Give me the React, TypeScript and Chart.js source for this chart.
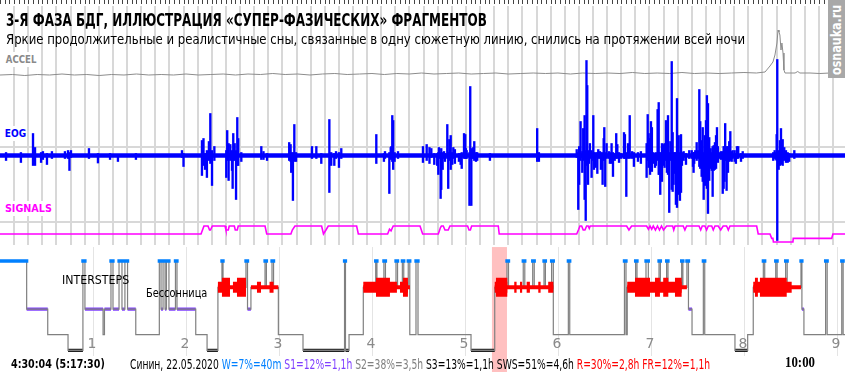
import React, { useEffect, useLayoutEffect, useRef } from 'react';
import { Chart, registerables } from 'chart.js';

Chart.register(...registerables);

// ---------------- data (time axis in minutes from 4:30:04) ----------------
const X_MAX = 545.2;
const HOURS = [1, 2, 3, 4, 5, 6, 7, 8, 9];
const GRID_STEP_MIN = 9.11;
const SELECTION: [number, number] = [317.4, 327.1];

type Stage = 'W' | 'R' | 'S1' | 'S2' | 'S3';

// ACCEL trace [minute, amplitude]
const ACCEL: [number, number][] = [
  [0, -1], [8, -0.5], [16, -1.5], [24, -0.5], [32, -1], [40, 0], [48, -1], [56, -0.5], [64, -1.5], [72, -0.5],
  [80, -1], [88, 0], [96, -1], [104, -0.5], [112, -1], [120, 0], [128, -1], [136, -0.5], [144, 0], [152, -1],
  [160, 0], [168, -0.5], [176, 0.5], [184, -0.5], [192, 0], [200, -1], [208, 0], [216, 0.5], [224, -0.5], [232, 0],
  [240, 0.5], [248, -0.5], [256, 0.5], [264, 0], [272, 1], [280, 0], [288, 0.5], [296, 1], [304, 0], [312, 0.5],
  [320, 1], [328, 0], [336, 0.5], [344, 1], [352, 0.5], [360, 1], [368, 0], [376, 1], [384, 0.5], [392, 1],
  [400, 0.5], [408, 1.5], [416, 0.5], [424, 1], [432, 0.5], [440, 1.5], [448, 0.5], [456, 1], [464, 0.5], [472, 1],
  [480, 1.5], [488, 1], [493.6, 2], [496.8, 8], [498.7, 12], [500.0, 19], [501.3, 31], [502.0, 44], [502.6, 42],
  [503.2, 39], [503.9, 24], [504.5, 31], [505.2, 21], [505.8, 4], [506.5, 1], [509.7, 1], [513, 1], [514.7, 2.5],
  [516.1, 1], [522.6, 1], [529.0, 0.5], [535.5, 1], [545.2, 1],
];

// EOG excursions [minute, low, high]
const EOG_SPIKES: [number, number, number][] = [
  [3.9, -5, 3], [13.5, -7, 3], [21.3, -10, 22], [22.6, -10, 8], [26.5, -7, 3], [27.7, -4, 4], [30.3, -9, 2], [33.5, -3, 4],
  [41.9, -3, 4], [43.9, -3, 5], [44.8, -15, 3], [45.8, -2, 5], [57.4, -3, 7], [63.2, -7.5, 2], [71.0, -4, 2], [76.1, -6, 1],
  [87.7, -4, 2], [117.4, -2, 5], [118.4, -11, 2], [130.3, -20, 15], [131.3, -10, 17], [132.3, -14, 2], [133.5, -22, 5],
  [134.8, -5, 14], [135.7, -8, 42], [136.8, -30, 5],
  [138.3, -5, 9], [146.0, -22, 5], [146.6, -5, 25], [147.5, -25, 12], [148.6, -5, 11], [149.7, -15, 5], [150.1, -33, 3],
  [150.5, -5, 22], [151.4, -5, 12], [152.3, -44, 5], [153.1, -10, 38], [153.7, -10, 17], [155.7, -6, 3], [168.6, -4, 9],
  [170.0, -4, 4], [172.3, -5, 2], [186.6, -5, 13], [187.5, -6, 11], [187.9, -17, 3], [189.0, -45, 3], [189.9, -6, 31],
  [191.0, -6, 3], [201.3, -3, 9], [204.1, -3, 9], [207.3, -8, 2], [212.5, -37, 36], [213.7, -10, 3], [215.7, -10, 2],
  [216.8, -3, 4], [218.7, -12, 3], [220.2, -3, 7], [242.8, -8, 21], [247.7, -6, 2], [248.4, -3, 4], [251.2, -38, 3],
  [252.1, -4, 8], [252.5, -3, 9], [253.1, -6, 40], [253.7, -14, 35], [254.6, -6, 3], [256.8, -3, 4], [272.9, -7, 9],
  [275.3, -5, 11], [277.1, -8, 8], [278.3, -2, 7], [280.2, -9, 2], [282.1, -10, 2], [282.8, -19, 3], [283.2, -3, 8],
  [284.3, -43, 3], [284.7, -34, 7], [285.6, -14, 3], [286.5, -3, 4], [287.1, -6, 2], [288.6, -3, 31], [289.2, -33, 3],
  [289.9, -5, 16], [290.8, -14, 20], [291.8, -9, 3], [292.5, -3, 8], [293.5, -8, 6], [296.1, -6, 2], [297.2, -9, 2],
  [297.9, -13, 3], [299.4, -3, 22], [300.2, -3, 21], [300.6, -3, 7], [301.1, -3, 5], [302.9, -50, 3], [303.4, -3, 69],
  [304.1, -50, 3], [304.5, -3, 7], [305.4, -3, 8], [306.0, -5, 14], [307.1, -6, 3], [307.9, -5, 3], [316.1, -5, 2],
  [346.6, -6, 27], [347.7, -6, 3],
  [372.1, -2, 6], [373.1, -54, 3], [373.7, -29, 9], [374.6, -5, 34], [375.7, -17, 4], [376.3, -5, 27], [377.2, -44, 40],
  [377.9, -65, 5], [378.4, -10, 95], [378.9, -8, 70], [379.4, -29, 5], [380.0, -8, 3], [380.6, -3, 12], [381.7, -22, 5],
  [382.8, -5, 40], [383.2, -14, 3], [384.3, -12, 3], [385.4, -18, 3], [386.0, -3, 6], [387.1, -3, 4], [387.7, -14, 3],
  [388.8, -29, 3], [389.5, -5, 17], [389.9, -3, 28], [390.5, -31, 3], [391.4, -3, 12], [392.9, -3, 4], [393.5, -8, 3],
  [394.6, -8, 12], [395.5, -21, 3], [396.6, -5, 2], [397.6, -3, 22], [398.3, -3, 11], [399.4, -7, 3], [400.8, -3, 2],
  [402.6, -3, 23], [403.2, -3, 21], [404.1, -41, 3], [405.2, -3, 12], [406.3, -3, 40], [407.9, -3, 4], [409.0, -11, 3],
  [411.6, -6, 3], [413.5, -8, 4], [417.2, -22, 12], [417.9, -5, 41], [418.5, -12, 22], [419.4, -19, 17], [420.0, -5, 34],
  [420.6, -16, 28], [421.5, -8, 3], [422.6, -12, 2], [423.2, -10, 3], [424.3, -5, 46], [425.0, -19, 53], [425.4, -19, 3],
  [426.0, -39, 3], [427.1, -26, 12], [427.9, -10, 11], [428.8, -12, 12], [429.7, -5, 35], [430.3, -17, 28], [431.0, -19, 40],
  [431.8, -57, 3], [432.5, -5, 14], [433.4, -34, 94], [434.0, -36, 23], [434.6, -29, 3], [435.3, -18, 3], [436.1, -49, 3],
  [436.8, -52, 57], [437.9, -39, 20], [438.7, -45, 3], [439.4, -37, 21], [440.0, -10, 3], [441.1, -5, 4], [442.6, -9, 2],
  [444.7, -3, 5], [446.3, -3, 5], [447.1, -11, 2], [447.5, -17, 3], [447.9, -8, 3], [448.6, -3, 5], [449.5, -5, 13],
  [450.3, -3, 5], [451.2, -11, 66], [451.8, -13, 34], [452.7, -21, 15], [453.4, -26, 28], [454.0, -44, 3], [454.8, -30, 20],
  [455.5, -5, 35], [456.1, -33, 60], [456.8, -58, 52], [457.6, -25, 18], [458.5, -13, 7], [459.2, -15, 3], [459.8, -41, 9],
  [460.5, -15, 10], [461.3, -14, 13], [462.0, -13, 20], [462.6, -5, 28], [463.2, -7, 9], [464.1, -3, 3], [465.2, -4, 4],
  [466.3, -38, 4], [466.9, -33, 9], [467.5, -26, 9], [467.9, -5, 32], [468.8, -35, 9], [469.7, -17, 9], [470.5, -6, 14],
  [471.2, -5, 24], [472.1, -6, 4], [472.7, -3, 5], [474.0, -6, 5], [474.8, -8, 2], [475.5, -3, 9], [476.3, -3, 9],
  [478.1, -6, 2], [479.2, -3, 4], [498.9, -5, 3], [499.8, -3, 5], [500.5, -4, 3], [501.1, -5, 21], [501.5, -85, 96],
  [502.4, -14, 5], [503.2, -10, 15], [503.9, -9, 27], [505.0, -10, 16], [506.0, -5, 8], [507.1, -7, 5], [508.2, -7, 3],
  [509.2, -6, 2], [512.5, -3, 5],
];

// SIGNALS trace [minute, level]
const SIGNALS: [number, number][] = [
  [0, 0], [129.7, 0], [131.6, 1], [134.2, 1], [135.2, 0.5], [135.8, 0.5], [137.0, 1], [145.2, 1], [145.8, 0.5], [147.3, 0.5],
  [147.9, 1], [151.2, 1], [151.8, 0.5], [153.1, 0.5], [153.7, 1], [171.0, 1], [172.1, 0], [187.7, 0], [188.6, 0.5], [190.3, 1],
  [207.5, 1], [208.7, 0], [210.3, 0.5], [211.8, 1], [230.1, 1], [231.2, 0], [250.1, 0], [251.3, 0.6], [252.3, 0.4], [253.7, 1],
  [271.0, 1], [272.7, 0], [282.8, 0], [284.2, 0.8], [284.8, 1], [286.0, 1], [287.1, 0.5], [289.2, 0.5], [290.3, 1], [301.7, 1],
  [302.6, 0.5], [303.5, 0.5], [304.3, 1], [321.5, 1], [322.1, 0], [372.1, 0], [373.4, 0.6], [374.2, 1], [375.3, 1], [376.3, 0.5],
  [377.4, 0.5], [378.5, 1], [379.5, 1], [380.2, 0.7], [380.8, 1], [404.3, 1], [405.8, 0.5], [407.5, 1], [417.2, 1], [418.4, 0.6],
  [419.4, 1], [420.5, 0.6], [421.5, 1], [422.9, 0.5], [424.2, 1], [425.5, 0.5], [426.8, 1], [428.1, 0.5], [430.1, 1], [434.0, 1],
  [434.7, 0.5], [435.5, 1], [440.8, 1], [441.9, 0.5], [443.0, 1], [451.0, 1], [452.1, 0.5], [453.1, 1], [454.8, 1], [455.9, 0.5],
  [457.0, 1], [459.2, 1], [460.2, 0.5], [461.3, 1], [463.4, 1], [465.0, 0.5], [466.6, 1], [468.8, 1], [469.9, 0.5], [471.0, 1],
  [488.2, 1], [489.2, 0], [496.8, 0], [497.9, -0.55], [498.7, -0.55], [499.0, -1], [511.6, -1], [511.8, -0.55], [536.6, -0.55],
  [537.4, 0], [545.2, 0],
];

// hypnogram: [start minute, stage]
const HYPNOGRAM: [number, Stage][] = [
  [0, 'W'], [17.2, 'S1'], [30.8, 'S2'], [43.9, 'S3'], [53.5, 'W'], [54.8, 'S1'], [66.5, 'S2'], [67.4, 'S1'], [71.6, 'W'],
  [72.9, 'S1'], [76.8, 'W'], [78.7, 'S1'], [80.6, 'W'], [82.3, 'S1'], [87.6, 'S2'], [102.8, 'W'], [103.9, 'S1'], [105.2, 'W'],
  [106.5, 'S1'], [107.4, 'W'], [109.0, 'S1'], [113.2, 'W'], [114.2, 'S1'], [126.3, 'S2'], [133.6, 'S3'], [140.6, 'R'],
  [143.2, 'W'], [143.9, 'R'], [158.7, 'W'], [159.7, 'S1'], [161.9, 'R'], [171.0, 'W'], [171.9, 'R'], [175.5, 'W'], [176.5, 'R'],
  [179.6, 'S2'], [195.5, 'S3'], [222.3, 'W'], [222.9, 'S3'], [225.2, 'S2'], [234.4, 'R'], [242.4, 'W'], [243.2, 'R'],
  [247.7, 'W'], [248.7, 'R'], [255.5, 'W'], [256.5, 'R'], [259.6, 'W'], [260.5, 'R'], [263.4, 'W'], [264.4, 'S2'], [268.4, 'W'],
  [269.7, 'S2'], [303.9, 'S3'], [319.2, 'R'], [327.1, 'W'], [328.1, 'R'], [337.6, 'W'], [338.6, 'R'], [343.7, 'W'], [344.7, 'R'],
  [351.0, 'W'], [351.9, 'R'], [355.9, 'W'], [357.0, 'S2'], [366.7, 'W'], [367.6, 'S2'], [402.9, 'W'], [403.9, 'S2'], [404.7, 'R'],
  [410.1, 'W'], [411.0, 'R'], [416.8, 'W'], [418.3, 'R'], [425.2, 'W'], [426.1, 'R'], [430.1, 'W'], [431.0, 'R'], [439.8, 'W'],
  [440.6, 'R'], [443.2, 'W'], [444.2, 'S1'], [446.5, 'S2'], [453.8, 'W'], [454.7, 'S2'], [474.2, 'S3'], [482.4, 'S2'], [486.0, 'R'],
  [492.5, 'W'], [493.4, 'R'], [500.5, 'W'], [501.4, 'R'], [506.9, 'W'], [507.9, 'R'], [516.8, 'W'], [517.4, 'S1'], [518.7, 'S2'],
  [532.7, 'W'], [533.7, 'S2'], [543.1, 'W'], [544.0, 'S2'],
];

// REM density per fragment [start, end, density 1..3]
const REM_DENSITY: [number, number, number][] = [
  [140.6, 143.2, 2], [143.2, 148.4, 3], [148.4, 150.3, 1], [150.3, 152.9, 2], [152.9, 158.7, 3],
  [161.9, 165.8, 1], [165.8, 168.4, 2], [168.4, 173.9, 1], [173.9, 176.5, 2], [176.5, 179.6, 1],
  [234.4, 242.6, 2], [242.6, 251.6, 3], [251.6, 256.1, 2], [256.1, 258.1, 1], [258.1, 260.0, 2], [260.0, 263.2, 3], [263.2, 264.5, 1],
  [319.2, 320.0, 2], [320.0, 327.3, 3], [327.3, 331.8, 1], [331.8, 333.3, 2], [333.3, 335.5, 1], [335.5, 336.9, 2],
  [336.9, 339.8, 1], [339.8, 341.9, 2], [341.9, 347.3, 1], [347.3, 348.8, 2], [348.8, 353.7, 1], [353.7, 357.0, 2],
  [404.7, 409.7, 2], [409.7, 419.4, 3], [419.4, 422.6, 2], [422.6, 425.8, 3], [425.8, 427.9, 2], [427.9, 431.2, 3],
  [431.2, 435.5, 2], [435.5, 439.8, 3], [439.8, 443.2, 1],
  [486.0, 487.1, 2], [487.1, 489.0, 3], [489.0, 490.3, 2], [490.3, 507.6, 3], [507.6, 510.8, 2], [510.8, 516.8, 1],
];

// ---------------- styling ----------------
const STAGE_LEVEL: Record<Stage, number> = { W: 4, R: 3, S1: 2.17, S2: 1.2, S3: 0.6 };
const COLORS = { W: '#0080ff', S1: '#8040ff', S2: '#808080', S3: '#202020', R: '#ff0000' };
const SANS = '"DejaVu Sans", "Liberation Sans", sans-serif';

type Pt = { x: number; y: number | null };

function stageSegments(stage: Stage): Pt[] {
  const pts: Pt[] = [];
  HYPNOGRAM.forEach(([t, s], i) => {
    if (s !== stage) return;
    const end = i + 1 < HYPNOGRAM.length ? HYPNOGRAM[i + 1][0] : X_MAX;
    pts.push({ x: t, y: STAGE_LEVEL[s] }, { x: end, y: STAGE_LEVEL[s] }, { x: end, y: null });
  });
  return pts;
}

function remSegments(minDensity: number): Pt[] {
  const pts: Pt[] = [];
  REM_DENSITY.forEach(([a, b, d]) => {
    if (d < minDensity) return;
    pts.push({ x: a, y: STAGE_LEVEL.R }, { x: b, y: STAGE_LEVEL.R }, { x: b, y: null });
  });
  return pts;
}

const backdrop = {
  id: 'backdrop',
  beforeDatasetsDraw(chart: any) {
    const { ctx, chartArea: ca, scales } = chart;
    const x = scales.x;
    ctx.save();
    ctx.globalAlpha = 1;
    ctx.globalCompositeOperation = 'source-over';
    // selected epoch band
    const b0 = x.getPixelForValue(SELECTION[0]);
    const b1 = x.getPixelForValue(SELECTION[1]);
    const bTop = scales.yHyp.getPixelForValue(4.53);
    ctx.fillStyle = '#ffc0c0';
    ctx.fillRect(b0, bTop, b1 - b0, ca.bottom - bTop);
    // upper vertical grid
    ctx.fillStyle = '#d8d8d8';
    for (let t = GRID_STEP_MIN; t < X_MAX; t += GRID_STEP_MIN) {
      const px = Math.round(x.getPixelForValue(t));
      ctx.fillRect(px - 1, 6, 2, 239);
    }
    // horizontal reference lines
    [Math.round(scales.yEog.getPixelForValue(8.5)), Math.round(scales.ySig.getPixelForValue(1.5))].forEach((py) => {
      ctx.fillRect(ca.left, py - 1, ca.right - ca.left, 2);
    });
    // hour lines in hypnogram
    ctx.fillStyle = '#e4e4e4';
    HOURS.forEach((h) => {
      const px = Math.round(x.getPixelForValue(h * 60));
      ctx.fillRect(px, 247, 1, 109);
    });
    // top ruler
    ctx.fillStyle = '#444444';
    for (let t = 0; t < X_MAX; t += GRID_STEP_MIN / 3) {
      const px = Math.round(x.getPixelForValue(t));
      ctx.fillRect(px, 0, 1, 4);
    }
    ctx.restore();
  },
  afterDatasetsDraw(chart: any) {
    const { ctx, scales } = chart;
    ctx.save();
    ctx.fillStyle = '#8a8a8a';
    ctx.font = `14px ${SANS}`;
    ctx.textAlign = 'center';
    ctx.textBaseline = 'alphabetic';
    HOURS.forEach((h) => ctx.fillText(String(h), scales.x.getPixelForValue(h * 60) - 1, 348));
    ctx.restore();
  },
};

type FitProps = {
  left: number; top: number; width: number; size: number; bold?: boolean; color?: string;
  family?: string; bg?: string; pad?: boolean; children: React.ReactNode;
};

function Fit({ left, top, width, size, bold, color = '#000', family = SANS, bg, pad, children }: FitProps) {
  const ref = useRef<HTMLSpanElement>(null);
  useLayoutEffect(() => {
    const el = ref.current;
    if (!el) return;
    el.style.transform = 'none';
    const w = el.offsetWidth;
    if (w > 0) el.style.transform = `scaleX(${width / w})`;
  }, [width]);
  return (
    <span
      ref={ref}
      style={{
        position: 'absolute', left, top, fontSize: size, lineHeight: 1, fontWeight: bold ? 'bold' : 'normal',
        color, fontFamily: family, whiteSpace: 'nowrap', transformOrigin: '0 0', background: bg,
        padding: pad ? '2px 1px' : 0, display: 'inline-block',
      }}
    >
      {children}
    </span>
  );
}

export default function App() {
  const canvasRef = useRef<HTMLCanvasElement>(null);

  useEffect(() => {
    document.body.style.margin = '0';
    const canvas = canvasRef.current;
    if (!canvas) return;
    const hypSteps: Pt[] = HYPNOGRAM.map(([t, s]) => ({ x: t, y: STAGE_LEVEL[s] }));
    hypSteps.push({ x: X_MAX, y: STAGE_LEVEL[HYPNOGRAM[HYPNOGRAM.length - 1][1]] });

    const line = (extra: any) => ({
      type: 'line', pointRadius: 0, borderJoinStyle: 'miter', spanGaps: false, tension: 0, fill: false, ...extra,
    });

    const chart = new Chart(canvas, {
      type: 'line',
      data: {
        datasets: [
          line({ order: 0, yAxisID: 'yHyp', data: stageSegments('W'), borderColor: COLORS.W, borderWidth: 3.3, borderCapStyle: 'square' }),
          line({ order: 1, yAxisID: 'yHyp', data: remSegments(3), borderColor: COLORS.R, borderWidth: 19, borderCapStyle: 'butt' }),
          line({ order: 2, yAxisID: 'yHyp', data: remSegments(2), borderColor: COLORS.R, borderWidth: 11, borderCapStyle: 'butt' }),
          line({ order: 3, yAxisID: 'yHyp', data: remSegments(1), borderColor: COLORS.R, borderWidth: 4, borderCapStyle: 'butt' }),
          line({ order: 4, yAxisID: 'yHyp', data: hypSteps, borderColor: '#808080', borderWidth: 1.2, stepped: true }),
          line({ order: 5, yAxisID: 'yHyp', data: stageSegments('S1'), borderColor: COLORS.S1, borderWidth: 3.4, borderCapStyle: 'butt' }),
          line({ order: 6, yAxisID: 'yHyp', data: stageSegments('S3'), borderColor: COLORS.S3, borderWidth: 3.4, borderCapStyle: 'butt' }),
          {
            type: 'bar', order: 7, yAxisID: 'yEog',
            data: EOG_SPIKES.map(([t, lo, hi]) => ({ x: t, y: [lo, hi] })),
            backgroundColor: '#0000ff', barThickness: 1.7, borderWidth: 0,
          } as any,
          line({ order: 8, yAxisID: 'yEog', data: [{ x: 0, y: 0 }, { x: X_MAX, y: 0 }], borderColor: '#0000ff', borderWidth: 4.5 }),
          line({ order: 9, yAxisID: 'ySig', data: SIGNALS.map(([t, v]) => ({ x: t, y: v })), borderColor: '#ff00ff', borderWidth: 1.6 }),
          line({ order: 10, yAxisID: 'yAccel', data: ACCEL.map(([t, v]) => ({ x: t, y: v })), borderColor: '#8c8c8c', borderWidth: 1 }),
        ] as any,
      },
      options: {
        responsive: false,
        animation: false,
        events: [],
        layout: { padding: 0 },
        plugins: { legend: { display: false }, tooltip: { enabled: false }, title: { display: false } },
        scales: {
          x: { type: 'linear', min: 0, max: X_MAX, display: false, offset: false },
          y: { display: false },
          yAccel: { type: 'linear', min: -298, max: 74, display: false },
          yEog: { type: 'linear', min: -216.5, max: 155.5, display: false },
          ySig: { type: 'linear', min: -17.25, max: 29.25, display: false },
          yHyp: { type: 'linear', min: -0.2205, max: 13.924, display: false },
        },
      } as any,
      plugins: [backdrop],
    });
    return () => chart.destroy();
  }, []);

  return (
    <div style={{ position: 'fixed', left: 0, top: 0, width: 845, height: 372, background: '#fff', overflow: 'hidden', fontFamily: SANS }}>
      <canvas ref={canvasRef} width={845} height={372} style={{ position: 'absolute', left: 0, top: 0 }} />
      <Fit left={6} top={12} width={481} size={17} bold>
        3-Я ФАЗА БДГ, ИЛЛЮСТРАЦИЯ «СУПЕР-ФАЗИЧЕСКИХ» ФРАГМЕНТОВ
      </Fit>
      <Fit left={6} top={32} width={739} size={14}>
        Яркие продолжительные и реалистичные сны, связанные в одну сюжетную линию, снились на протяжении всей ночи
      </Fit>
      <Fit left={5} top={52} width={32} size={11} bold color="#8a8a8a" bg="#fff" pad>ACCEL</Fit>
      <Fit left={4} top={126} width={23} size={11} bold color="#0000ff" bg="#fff" pad>EOG</Fit>
      <Fit left={4} top={201} width={49} size={11} bold color="#ff00ff" bg="#fff" pad>SIGNALS</Fit>
      <Fit left={62} top={273} width={67} size={13}>INTERSTEPS</Fit>
      <Fit left={146} top={286} width={61} size={13}>Бессонница</Fit>
      <Fit left={11} top={357} width={94} size={13} bold>4:30:04 (5:17:30)</Fit>
      <Fit left={130} top={357} width={580} size={14}>
        Синин, 22.05.2020{' '}
        <span style={{ color: COLORS.W }}>W=7%=40m</span>{' '}
        <span style={{ color: COLORS.S1 }}>S1=12%=1,1h</span>{' '}
        <span style={{ color: '#808080' }}>S2=38%=3,5h</span>{' '}
        S3=13%=1,1h SWS=51%=4,6h{' '}
        <span style={{ color: COLORS.R }}>R=30%=2,8h FR=12%=1,1h</span>
      </Fit>
      <Fit left={785} top={355} width={30} size={15} bold family='"Liberation Serif", serif'>10:00</Fit>
      <div style={{ position: 'absolute', left: 828, top: 0, width: 17, height: 78, background: '#a8a8a8', overflow: 'hidden' }}>
        <div style={{ position: 'absolute', left: 0, top: 76, width: 72, height: 17, transformOrigin: '0 0', transform: 'rotate(-90deg)' }}>
          <Fit left={1} top={1} width={70} size={14} bold color="#fff">osnauka.ru</Fit>
        </div>
      </div>
    </div>
  );
}
